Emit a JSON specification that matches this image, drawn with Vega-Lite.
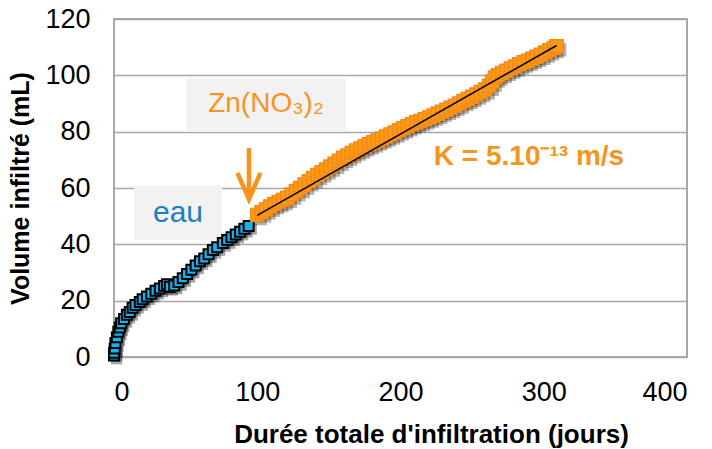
{
  "$schema": "https://vega.github.io/schema/vega-lite/v6.json",
  "width": 573,
  "height": 338,
  "autosize": {"type": "none"},
  "padding": {"left": 114, "top": 19, "right": 25, "bottom": 92},
  "background": "white",
  "config": {
    "font": "Liberation Sans",
    "view": {"stroke": "#8C8C8C", "strokeWidth": 1.5},
    "axis": {"domain": false, "ticks": false, "labelFont": "Liberation Sans", "titleFont": "Liberation Sans", "labelColor": "#000000", "titleColor": "#000000"}
  },
  "datasets": {
    "boxes": [
      {"x": 50.3, "x2": 162, "y": 99, "y2": 79.9},
      {"x": 14, "x2": 75.4, "y": 61, "y2": 41.5}
    ],
    "blue": [
      {"x": 0, "y": 0.5}, {"x": 0, "y": 1.5}, {"x": 0.5, "y": 3}, {"x": 1, "y": 5}, {"x": 2, "y": 7}, {"x": 3, "y": 9},
      {"x": 4, "y": 10.5}, {"x": 5, "y": 12}, {"x": 7, "y": 13.5}, {"x": 9, "y": 15}, {"x": 11, "y": 16}, {"x": 13, "y": 17.5},
      {"x": 15, "y": 18.5}, {"x": 18, "y": 19.5}, {"x": 20, "y": 20.5}, {"x": 23, "y": 21.5}, {"x": 26, "y": 22.5}, {"x": 29, "y": 23.5},
      {"x": 32, "y": 24.3}, {"x": 35, "y": 25.2}, {"x": 37, "y": 25.8}, {"x": 39, "y": 24.9}, {"x": 42, "y": 25.4}, {"x": 45, "y": 26.6},
      {"x": 48, "y": 28}, {"x": 51, "y": 29.5}, {"x": 54, "y": 31}, {"x": 57, "y": 32.5}, {"x": 60, "y": 34}, {"x": 63, "y": 35},
      {"x": 66, "y": 36.5}, {"x": 69, "y": 38}, {"x": 72, "y": 39}, {"x": 76, "y": 40.5}, {"x": 79, "y": 41.5}, {"x": 82, "y": 42.5},
      {"x": 85, "y": 43.5}, {"x": 88, "y": 44.5}, {"x": 91, "y": 45.5}, {"x": 94, "y": 46.5}
    ],
    "orange": [
      {"x": 100, "y": 50.4}, {"x": 103, "y": 51.4}, {"x": 106, "y": 52.4}, {"x": 109, "y": 53.4}, {"x": 112, "y": 54.3},
      {"x": 115, "y": 55.0}, {"x": 118, "y": 55.7}, {"x": 121, "y": 56.5}, {"x": 124, "y": 57.7}, {"x": 127, "y": 58.9},
      {"x": 130, "y": 60.0}, {"x": 133, "y": 61.2}, {"x": 136, "y": 62.4}, {"x": 139, "y": 63.5}, {"x": 142, "y": 64.6},
      {"x": 145, "y": 65.6}, {"x": 148, "y": 66.6}, {"x": 151, "y": 67.6}, {"x": 154, "y": 68.6}, {"x": 157, "y": 69.7},
      {"x": 160, "y": 70.7}, {"x": 163, "y": 71.5}, {"x": 166, "y": 72.4}, {"x": 169, "y": 73.3}, {"x": 172, "y": 74.0},
      {"x": 175, "y": 74.8}, {"x": 178, "y": 75.5}, {"x": 181, "y": 76.2}, {"x": 184, "y": 76.9}, {"x": 187, "y": 77.6},
      {"x": 190, "y": 78.3}, {"x": 193, "y": 79.0}, {"x": 196, "y": 79.7}, {"x": 199, "y": 80.5}, {"x": 202, "y": 81.2},
      {"x": 205, "y": 81.9}, {"x": 208, "y": 82.6}, {"x": 211, "y": 83.3}, {"x": 214, "y": 83.8}, {"x": 217, "y": 84.4},
      {"x": 220, "y": 85.0}, {"x": 223, "y": 85.7}, {"x": 226, "y": 86.4}, {"x": 229, "y": 87.1}, {"x": 232, "y": 87.8},
      {"x": 235, "y": 88.5}, {"x": 238, "y": 89.2}, {"x": 241, "y": 90.0}, {"x": 244, "y": 90.9}, {"x": 247, "y": 91.6},
      {"x": 250, "y": 92.4}, {"x": 253, "y": 93.2}, {"x": 256, "y": 94.1}, {"x": 259, "y": 95.0}, {"x": 262, "y": 96.3},
      {"x": 264, "y": 97.8}, {"x": 266, "y": 99.2}, {"x": 268, "y": 100.0}, {"x": 271, "y": 100.8}, {"x": 274, "y": 101.6},
      {"x": 277, "y": 102.4}, {"x": 280, "y": 103.1}, {"x": 283, "y": 103.9}, {"x": 286, "y": 104.6}, {"x": 289, "y": 105.2},
      {"x": 292, "y": 105.9}, {"x": 295, "y": 106.6}, {"x": 298, "y": 107.3}, {"x": 301, "y": 108.1}, {"x": 304, "y": 108.9},
      {"x": 307, "y": 109.7}, {"x": 309, "y": 110.3}
    ],
    "trend": [{"x": 100, "y": 50.3}, {"x": 309, "y": 110.6}],
    "arrow": [{"x": 94.2, "y": 74.2, "y2": 57}],
    "arrowhead": [{"x": 94.2, "y": 56}],
    "zn": [{"x": 106.1, "y": 89.8, "label": "Zn(NO₃)₂"}],
    "eau": [{"x": 44.7, "y": 51.1, "label": "eau"}],
    "k": [{"x": 289.7, "y": 71, "label": "K = 5.10⁻¹³ m/s"}]
  },
  "encoding": {
    "x": {
      "field": "x", "type": "quantitative",
      "scale": {"domain": [0, 400], "nice": false, "zero": false},
      "axis": {"values": [0, 100, 200, 300, 400], "grid": false, "labelFontSize": 27, "labelPadding": 22,
               "title": "Durée totale d'infiltration (jours)", "titleFontSize": 26, "titleFontWeight": "bold", "titlePadding": 16, "titleX": 317}
    },
    "y": {
      "field": "y", "type": "quantitative",
      "scale": {"domain": [0, 120], "nice": false},
      "axis": {"values": [0, 20, 40, 60, 80, 100, 120], "grid": true, "gridColor": "#A6A6A6", "gridWidth": 1.5,
               "labelFontSize": 27, "labelPadding": 24,
               "title": "Volume infiltré (mL)", "titleFontSize": 25, "titleFontWeight": "bold", "titlePadding": 11}
    }
  },
  "layer": [
    {
      "data": {"name": "boxes"},
      "mark": {"type": "rect", "color": "#F2F2F2"},
      "encoding": {"x2": {"field": "x2"}, "y2": {"field": "y2"}}
    },
    {
      "data": {"name": "blue"},
      "mark": {"type": "point", "shape": "square", "filled": true, "color": "#000000", "opacity": 0.35, "size": 130, "xOffset": 2.5, "yOffset": 3}
    },
    {
      "data": {"name": "orange"},
      "mark": {"type": "point", "shape": "square", "filled": true, "color": "#000000", "opacity": 0.3, "size": 180, "xOffset": 3, "yOffset": 3.5}
    },
    {
      "data": {"name": "blue"},
      "mark": {"type": "point", "shape": "square", "filled": true, "fill": "#1BB1EC", "stroke": "#000000", "strokeWidth": 2, "opacity": 1, "size": 100}
    },
    {
      "data": {"name": "orange"},
      "mark": {"type": "point", "shape": "square", "filled": true, "fill": "#FF9A0E", "stroke": "#EE8A1E", "strokeWidth": 1.5, "opacity": 1, "size": 170}
    },
    {
      "data": {"name": "trend"},
      "mark": {"type": "line", "color": "#000000", "strokeWidth": 1.5}
    },
    {
      "data": {"name": "arrow"},
      "mark": {"type": "rule", "color": "#F7941D", "strokeWidth": 4.5},
      "encoding": {"y2": {"field": "y2"}}
    },
    {
      "data": {"name": "arrowhead"},
      "mark": {"type": "point", "shape": "M-1,-2.3L0,0L1,-2.3", "filled": false, "stroke": "#F7941D", "strokeWidth": 4.5, "size": 530, "opacity": 1, "strokeCap": "butt"}
    },
    {
      "data": {"name": "zn"},
      "mark": {"type": "text", "fontSize": 28, "color": "#F7941D", "align": "center", "baseline": "middle"},
      "encoding": {"text": {"field": "label"}}
    },
    {
      "data": {"name": "eau"},
      "mark": {"type": "text", "fontSize": 30, "color": "#1C7EC4", "align": "center", "baseline": "middle"},
      "encoding": {"text": {"field": "label"}}
    },
    {
      "data": {"name": "k"},
      "mark": {"type": "text", "fontSize": 28, "fontWeight": "bold", "color": "#F7941D", "align": "center", "baseline": "middle"},
      "encoding": {"text": {"field": "label"}}
    }
  ]
}
